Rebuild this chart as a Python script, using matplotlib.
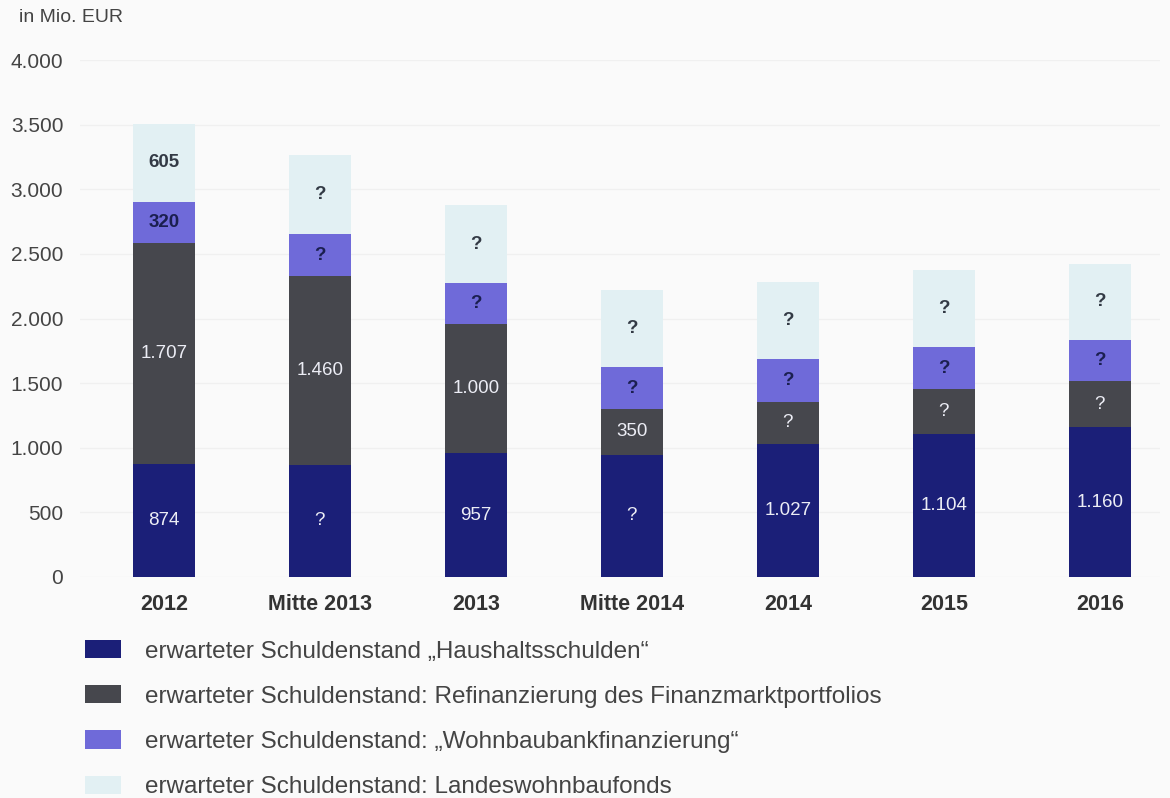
import numpy as np
import matplotlib
matplotlib.use('Agg')
import matplotlib.pyplot as plt
from matplotlib.patches import Patch

plt.rcParams['font.family'] = ['Liberation Sans', 'DejaVu Sans']

# data (Mio. EUR)
periods = ['2012', 'Mitte 2013', '2013', 'Mitte 2014', '2014', '2015', '2016']
haushalt = [874, 870, 957, 947, 1027, 1104, 1160]
refinanz = [1707, 1460, 1000, 350, 330, 350, 355]
wohnbaubank = [320, 322, 315, 325, 331, 322, 320]
landesfonds = [605, 610, 606, 598, 598, 598, 590]

haushalt_lbl = ['874', '?', '957', '?', '1.027', '1.104', '1.160']
refinanz_lbl = ['1.707', '1.460', '1.000', '350', '?', '?', '?']
wohnbaubank_lbl = ['320', '?', '?', '?', '?', '?', '?']
landesfonds_lbl = ['605', '?', '?', '?', '?', '?', '?']

series_names = [
    'erwarteter Schuldenstand \u201eHaushaltsschulden\u201c',
    'erwarteter Schuldenstand: Refinanzierung des Finanzmarktportfolios',
    'erwarteter Schuldenstand: \u201eWohnbaubankfinanzierung\u201c',
    'erwarteter Schuldenstand: Landeswohnbaufonds',
]
yticks = [0, 500, 1000, 1500, 2000, 2500, 3000, 3500, 4000]
ytick_labels = ['0', '500', '1.000', '1.500', '2.000', '2.500', '3.000', '3.500', '4.000']

COLORS = ['#1b1f78', '#46474d', '#6f6ad9', '#e2f0f3']
TEXT_COLORS = ['#ecedf5', '#ecedf5', '#1b1f50', '#333a45']
BG = '#fafafa'

W, H = 1170, 798
fig = plt.figure(figsize=(W / 100, H / 100), dpi=100, facecolor=BG)
ax = fig.add_axes([80 / W, 1 - 577 / H, 1080 / W, 517 / H], facecolor=BG)

x = np.arange(len(periods))
stack = [haushalt, refinanz, wohnbaubank, landesfonds]
labels = [haushalt_lbl, refinanz_lbl, wohnbaubank_lbl, landesfonds_lbl]
bottom = np.zeros(len(periods))
for vals, lbls, color, tcol in zip(stack, labels, COLORS, TEXT_COLORS):
    vals = np.array(vals, dtype=float)
    ax.bar(x, vals, width=0.4, bottom=bottom, color=color, zorder=2)
    weight = 'bold' if tcol != '#ecedf5' else 'normal'
    for xi, b, v, t in zip(x, bottom, vals, lbls):
        ax.text(xi, b + v / 2, t, ha='center', va='center', color=tcol,
                fontsize=13.5, fontweight=weight, zorder=3)
    bottom += vals

ax.set_ylim(0, 4000)
ax.set_xlim(-0.538, 6.385)
ax.set_yticks(yticks)
ax.set_yticklabels(ytick_labels)
ax.set_xticks(x)
ax.set_xticklabels(periods, fontweight='bold')
ax.tick_params(axis='y', length=0, pad=12, labelsize=15, labelcolor='#444444')
ax.tick_params(axis='x', length=0, pad=12, labelsize=15.5, labelcolor='#333333')
ax.grid(True, axis='y', color='#f0f0f0', linewidth=1, zorder=0)
for s in ax.spines.values():
    s.set_visible(False)

fig.text(19 / W, 1 - 18 / H, 'in Mio. EUR', ha='left', va='center',
         fontsize=14, color='#444444')

handles = [Patch(facecolor=c, edgecolor='none') for c in COLORS]
fig.legend(handles, series_names, loc='upper left',
           bbox_to_anchor=(85 / W, 1 - 640 / H), frameon=False,
           fontsize=17.5, handlelength=1.5, handleheight=0.78,
           handletextpad=0.95, labelspacing=0.93, borderpad=0,
           borderaxespad=0, labelcolor='#444444')

fig.savefig('out.png', dpi=100, facecolor=BG)
